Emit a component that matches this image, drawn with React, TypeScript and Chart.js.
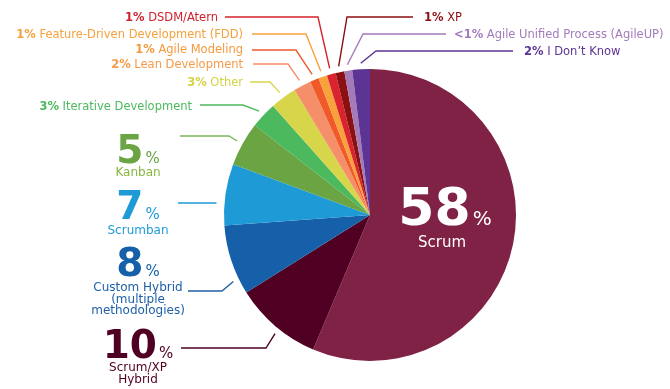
import React, { useEffect, useRef } from "react";
import { Chart, registerables } from "chart.js";

Chart.register(...registerables);

// ---- Data ----
const categories = [
  "Scrum",
  "Scrum/XP Hybrid",
  "Custom Hybrid (multiple methodologies)",
  "Scrumban",
  "Kanban",
  "Iterative Development",
  "Other",
  "Lean Development",
  "Agile Modeling",
  "Feature-Driven Development (FDD)",
  "DSDM/Atern",
  "XP",
  "Agile Unified Process (AgileUP)",
  "I Don\u2019t Know",
];
const values = [58, 10, 8, 7, 5, 3, 3, 2, 1, 1, 1, 1, 0.9, 2];
const percentLabels = ["58", "10", "8", "7", "5", "3%", "3%", "2%", "1%", "1%", "1%", "1%", "<1%", "2%"];
const sliceColors = [
  "#7f2245",
  "#4f0023",
  "#1560a8",
  "#1e9ad6",
  "#6aa443",
  "#4cb95e",
  "#d7d64a",
  "#f58f6a",
  "#f05a28",
  "#f9a13a",
  "#d9232e",
  "#8b1012",
  "#a57ab8",
  "#5c3494",
];

// ---- Annotation layout (positions / styles only) ----
const FONT = '"DejaVu Sans", sans-serif';
const SMALL = 11.5;

type SmallLabel = {
  idx: number;
  side: "left" | "right";
  textX: number;
  textY: number;
  lineX: number;
  bendX: number;
  lineY: number;
  frac: number;
  textColor: string;
  lineColor: string;
};

const smallLabels: SmallLabel[] = [
  { idx: 10, side: "left", textX: 218, textY: 17, lineX: 225, bendX: 318, lineY: 17, frac: 0.5, textColor: "#d0202e", lineColor: "#d2232a" },
  { idx: 9, side: "left", textX: 243, textY: 34, lineX: 252, bendX: 306, lineY: 34, frac: 0.5, textColor: "#f6a13b", lineColor: "#f9a13a" },
  { idx: 8, side: "left", textX: 243, textY: 49, lineX: 252, bendX: 296, lineY: 50, frac: 0.5, textColor: "#f49a3c", lineColor: "#ef5a2a" },
  { idx: 7, side: "left", textX: 243, textY: 64, lineX: 253, bendX: 288, lineY: 64, frac: 0.5, textColor: "#f69a48", lineColor: "#f68e6a" },
  { idx: 6, side: "left", textX: 243, textY: 82, lineX: 250, bendX: 270, lineY: 82, frac: 0.5, textColor: "#d4d345", lineColor: "#d7d54c" },
  { idx: 5, side: "left", textX: 192, textY: 106, lineX: 200, bendX: 243, lineY: 105, frac: 0.5, textColor: "#4cb95e", lineColor: "#4cb95e" },
  { idx: 11, side: "right", textX: 424, textY: 17, lineX: 413, bendX: 347, lineY: 17, frac: 0.5, textColor: "#8b1012", lineColor: "#8b1012" },
  { idx: 12, side: "right", textX: 454, textY: 34, lineX: 446, bendX: 363, lineY: 34, frac: 0.5, textColor: "#a47bbd", lineColor: "#a57ab8" },
  { idx: 13, side: "right", textX: 524, textY: 51, lineX: 513, bendX: 376, lineY: 51, frac: 0.5, textColor: "#5c3494", lineColor: "#5c3494" },
];

type BigLabel = {
  idx: number;
  cx: number;
  baseY: number;
  subLines: string[];
  subY: number;
  lineX: number;
  bendX: number | null;
  lineY: number;
  frac: number;
  numColor: string;
  subColor: string;
  lineColor: string;
};

const bigLabels: BigLabel[] = [
  { idx: 4, cx: 138, baseY: 163, subLines: ["Kanban"], subY: 173, lineX: 180, bendX: 229, lineY: 136, frac: 0.5, numColor: "#6aa443", subColor: "#86b83e", lineColor: "#7cb85a" },
  { idx: 3, cx: 138, baseY: 219, subLines: ["Scrumban"], subY: 231, lineX: 178, bendX: null, lineY: 203, frac: 0.5, numColor: "#1e9ad6", subColor: "#1e9ad6", lineColor: "#1e9ad6" },
  { idx: 2, cx: 138, baseY: 276, subLines: ["Custom Hybrid", "(multiple", "methodologies)"], subY: 288, lineX: 188, bendX: 222, lineY: 291, frac: 0.22, numColor: "#1560a8", subColor: "#1f5fa8", lineColor: "#1f5fa8" },
  { idx: 1, cx: 138, baseY: 358, subLines: ["Scrum/XP", "Hybrid"], subY: 368, lineX: 181, bendX: 266, lineY: 348, frac: 0.45, numColor: "#4f0023", subColor: "#4f0023", lineColor: "#4f0023" },
];

function arcAnchor(chart: any, idx: number, frac: number, gap: number) {
  const arc = chart.getDatasetMeta(0).data[idx] as any;
  const p = arc.getProps(["x", "y", "startAngle", "endAngle", "outerRadius"], true);
  const a = p.startAngle + (p.endAngle - p.startAngle) * frac;
  const r = p.outerRadius + gap;
  return { x: p.x + r * Math.cos(a), y: p.y + r * Math.sin(a), cx: p.x, cy: p.y, r };
}

const labelPlugin = {
  id: "customLabels",
  afterDatasetsDraw(chart: any) {
    const ctx = chart.ctx as CanvasRenderingContext2D;
    ctx.save();
    ctx.lineWidth = 1.4;
    ctx.lineJoin = "miter";

    // small labels
    for (const L of smallLabels) {
      const anc = arcAnchor(chart, L.idx, L.frac, 6);
      ctx.strokeStyle = L.lineColor;
      ctx.beginPath();
      ctx.moveTo(L.lineX, L.lineY);
      ctx.lineTo(L.bendX, L.lineY);
      ctx.lineTo(anc.x, anc.y);
      ctx.stroke();

      const pct = percentLabels[L.idx];
      const name = " " + categories[L.idx];
      ctx.fillStyle = L.textColor;
      ctx.textBaseline = "middle";
      ctx.textAlign = "left";
      ctx.font = `bold ${SMALL}px ${FONT}`;
      const wp = ctx.measureText(pct).width;
      ctx.font = `${SMALL}px ${FONT}`;
      const wn = ctx.measureText(name).width;
      const x0 = L.side === "left" ? L.textX - (wp + wn) : L.textX;
      ctx.font = `bold ${SMALL}px ${FONT}`;
      ctx.fillText(pct, x0, L.textY + 1);
      ctx.font = `${SMALL}px ${FONT}`;
      ctx.fillText(name, x0 + wp, L.textY + 1);
    }

    // big labels
    for (const B of bigLabels) {
      let ax: number, ay: number;
      if (B.bendX === null) {
        const anc = arcAnchor(chart, B.idx, 0.5, 8);
        const dy = B.lineY - anc.cy;
        ax = anc.cx - Math.sqrt(anc.r * anc.r - dy * dy);
        ay = B.lineY;
      } else {
        const anc = arcAnchor(chart, B.idx, B.frac, 6);
        ax = anc.x;
        ay = anc.y;
      }
      ctx.strokeStyle = B.lineColor;
      ctx.beginPath();
      ctx.moveTo(B.lineX, B.lineY);
      if (B.bendX !== null) ctx.lineTo(B.bendX, B.lineY);
      ctx.lineTo(ax, ay);
      ctx.stroke();

      const num = percentLabels[B.idx];
      ctx.fillStyle = B.numColor;
      ctx.textBaseline = "alphabetic";
      ctx.textAlign = "left";
      ctx.font = `bold 39px ${FONT}`;
      const wNum = ctx.measureText(num).width;
      ctx.font = `15px ${FONT}`;
      const wPct = ctx.measureText("%").width;
      const gapPx = 2;
      const start = B.cx - (wNum + gapPx + wPct) / 2;
      ctx.font = `bold 39px ${FONT}`;
      ctx.fillText(num, start, B.baseY);
      ctx.font = `15px ${FONT}`;
      ctx.fillText("%", start + wNum + gapPx, B.baseY);

      ctx.fillStyle = B.subColor;
      ctx.textAlign = "center";
      ctx.textBaseline = "middle";
      ctx.font = `12px ${FONT}`;
      B.subLines.forEach((s, i) => ctx.fillText(s, B.cx, B.subY + i * 11.5));
    }

    // center label for largest slice
    {
      ctx.fillStyle = "#ffffff";
      ctx.textBaseline = "alphabetic";
      ctx.textAlign = "left";
      ctx.font = `bold 52px ${FONT}`;
      const num = percentLabels[0];
      const wNum = ctx.measureText(num).width;
      ctx.font = `20px ${FONT}`;
      const wPct = ctx.measureText("%").width;
      const cx = 445;
      const start = cx - (wNum + 2 + wPct) / 2;
      ctx.font = `bold 52px ${FONT}`;
      ctx.fillText(num, start, 225);
      ctx.font = `20px ${FONT}`;
      ctx.fillText("%", start + wNum + 2, 225);
      ctx.textAlign = "center";
      ctx.textBaseline = "middle";
      ctx.font = `15px ${FONT}`;
      ctx.fillText(categories[0], 442, 243);
    }
    ctx.restore();
  },
};

export default function App() {
  const ref = useRef<HTMLCanvasElement | null>(null);
  useEffect(() => {
    document.body.style.margin = "0";
    const canvas = ref.current!;
    const chart = new Chart(canvas, {
      type: "pie",
      data: {
        labels: categories,
        datasets: [
          {
            data: values,
            backgroundColor: sliceColors,
            borderWidth: 0,
          },
        ],
      },
      options: {
        responsive: false,
        animation: false,
        layout: { padding: { left: 224, right: 154, top: 69, bottom: 28 } },
        plugins: {
          legend: { display: false },
          tooltip: { enabled: false },
        },
      },
      plugins: [labelPlugin],
    });
    return () => chart.destroy();
  }, []);
  return (
    <div style={{ position: "absolute", left: 0, top: 0, width: 670, height: 389, background: "#fff" }}>
      <canvas ref={ref} width={670} height={389} style={{ width: 670, height: 389 }} />
    </div>
  );
}
